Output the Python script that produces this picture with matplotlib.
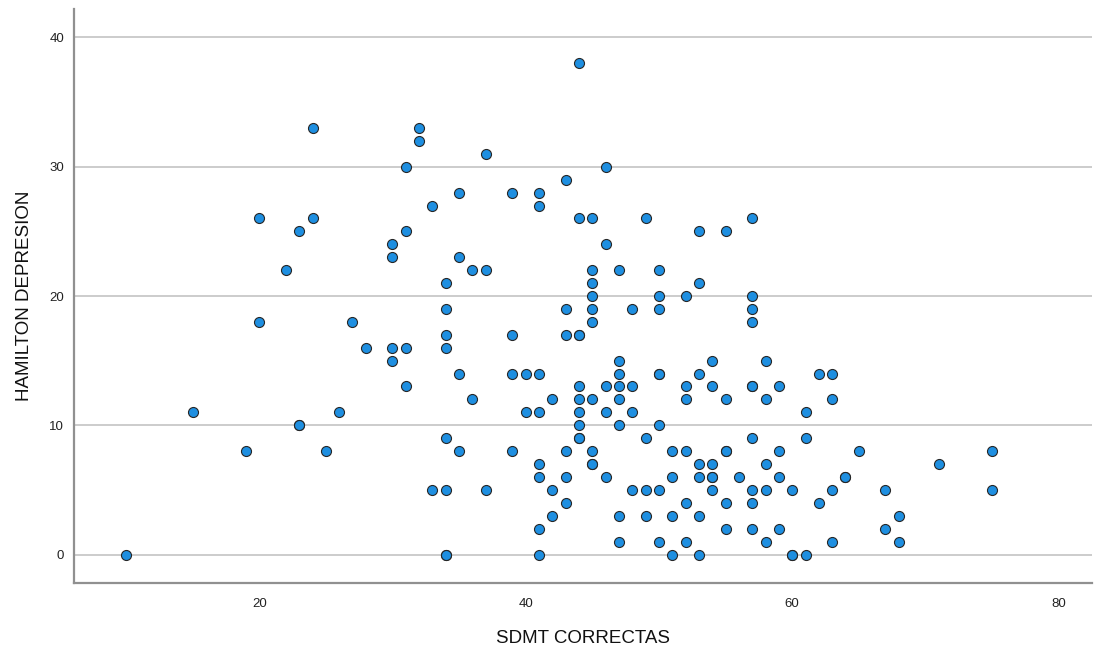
import matplotlib

matplotlib.use("Agg")
import matplotlib.pyplot as plt  # noqa: E402
import numpy as np  # noqa: E402

# SDMT correct answers vs Hamilton depression score, one entry per subject
sdmt = [
    10, 15, 19, 20, 20, 22, 23, 23, 23, 24, 24, 25, 26, 27, 28, 30, 30, 30, 30,
    31, 31, 31, 31, 32, 32, 33, 33, 34, 34, 34, 34, 34, 34, 34, 34, 35, 35, 35,
    35, 36, 36, 37, 37, 37, 39, 39, 39, 39, 40, 40, 41, 41, 41, 41, 41, 41, 41,
    41, 42, 42, 42, 43, 43, 43, 43, 43, 43, 44, 44, 44, 44, 44, 44, 44, 44, 44,
    44, 45, 45, 45, 45, 45, 45, 45, 45, 45, 45, 46, 46, 46, 46, 46, 47, 47, 47,
    47, 47, 47, 47, 47, 48, 48, 48, 48, 49, 49, 49, 49, 50, 50, 50, 50, 50, 50,
    50, 50, 51, 51, 51, 51, 52, 52, 52, 52, 52, 52, 53, 53, 53, 53, 53, 53, 53,
    54, 54, 54, 54, 54, 54, 55, 55, 55, 55, 55, 55, 56, 57, 57, 57, 57, 57, 57,
    57, 57, 57, 57, 58, 58, 58, 58, 58, 59, 59, 59, 59, 60, 60, 60, 61, 61, 61,
    62, 62, 63, 63, 63, 63, 64, 64, 65, 67, 67, 68, 68, 71, 75, 75,
]
hamilton = [
    0, 11, 8, 26, 18, 22, 25, 10, 10, 33, 26, 8, 11, 18, 16, 24, 23, 16, 15,
    30, 25, 16, 13, 33, 32, 27, 5, 21, 19, 17, 16, 9, 5, 0, 0, 28, 23, 14,
    8, 22, 12, 31, 22, 5, 28, 17, 14, 8, 14, 11, 28, 27, 14, 11, 7, 6, 2,
    0, 12, 5, 3, 29, 19, 17, 8, 6, 4, 38, 26, 17, 13, 12, 11, 10, 9, 9,
    17, 26, 22, 21, 20, 19, 18, 12, 8, 7, 7, 30, 24, 13, 11, 6, 22, 15, 14,
    13, 12, 10, 3, 1, 19, 13, 11, 5, 26, 9, 5, 3, 22, 20, 19, 14, 10, 5,
    1, 14, 8, 6, 3, 0, 20, 13, 12, 8, 4, 1, 25, 21, 14, 7, 6, 3, 0,
    15, 13, 7, 6, 6, 5, 25, 12, 8, 8, 4, 2, 6, 26, 20, 19, 18, 13, 9,
    5, 4, 2, 13, 15, 12, 7, 5, 1, 13, 8, 6, 2, 5, 0, 0, 11, 9, 0,
    14, 4, 14, 12, 5, 1, 6, 6, 8, 5, 2, 3, 1, 7, 8, 5,
]
y_ticks = [0, 10, 20, 30, 40]
x_ticks = [20, 40, 60, 80]

_FILL = "#1e8fe1"
_EDGE = "#262626"
_GRID = "#cccccc"
_SPINE = "#909090"

plt.rcParams["font.family"] = ["Liberation Sans", "DejaVu Sans"]

fig = plt.figure(figsize=(11.04, 6.49), dpi=100)
ax = fig.add_axes([74 / 1104, 1 - 583 / 649, (1092 - 74) / 1104, (583 - 9) / 649])

ax.scatter(np.array(sdmt), np.array(hamilton), s=52, color=_FILL, edgecolors=_EDGE,
           linewidths=0.8, zorder=3)

ax.set_xlim(6.1, 82.5)
ax.set_ylim(-2.2, 42.2)
ax.set_xticks(x_ticks)
ax.set_yticks(y_ticks)
ax.yaxis.grid(True, color=_GRID, linewidth=1.4, zorder=0)
ax.set_axisbelow(True)

for side in ("top", "right"):
    ax.spines[side].set_visible(False)
for side in ("left", "bottom"):
    ax.spines[side].set_color(_SPINE)
    ax.spines[side].set_linewidth(1.6)

ax.tick_params(axis="both", length=0, labelsize=9.5, colors="#222222")
ax.tick_params(axis="y", pad=7)
ax.tick_params(axis="x", pad=11)

ax.set_xlabel("SDMT CORRECTAS", fontsize=13.5, color="#111111", labelpad=14)
ax.set_ylabel("HAMILTON DEPRESION", fontsize=13.5, color="#111111", labelpad=12)

fig.savefig("out.png", dpi=100)
plt.close(fig)
